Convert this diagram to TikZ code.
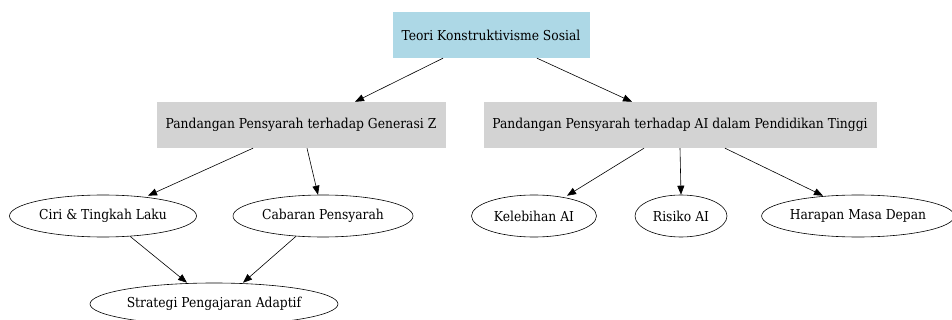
\documentclass[tikz,border=0pt]{standalone}
\usepackage{fontspec}
\setmainfont{DejaVu Serif Condensed}
\usepackage{tikz}
\usetikzlibrary{arrows.meta, positioning, shapes.geometric}
\definecolor{rootblue}{HTML}{ADD8E6}
\definecolor{boxgray}{HTML}{D3D3D3}

\begin{document}
\begin{tikzpicture}[x=1pt, y=-1pt, font=\fontsize{13.7}{15}\selectfont,
        topic/.style={rectangle, fill=boxgray, minimum height=46pt, inner sep=0pt},
        leaf/.style={ellipse, draw, fill=white, line width=0.6pt, minimum height=42pt, inner sep=0pt},
        arrow/.style={-{Triangle[length=9pt, width=7pt]}, line width=0.6pt}]
        \useasboundingbox (0,0) rectangle (952,320);
        % Nodes
        \node (teori) [topic, fill=rootblue, minimum width=197pt] at (491,35) {Teori Konstruktivisme Sosial};

        \node (genz) [topic, minimum width=289pt] at (301,125) {Pandangan Pensyarah terhadap Generasi Z};
        \node (ai) [topic, minimum width=393pt] at (680,125) {Pandangan Pensyarah terhadap AI dalam Pendidikan Tinggi};

        \node (ciri) [leaf, minimum width=187pt] at (103,216) {Ciri \& Tingkah Laku};
        \node (cabaran) [leaf, minimum width=180pt] at (323,216) {Cabaran Pensyarah};
        \node (kelebihan) [leaf, minimum width=125pt] at (534,216) {Kelebihan AI};
        \node (risiko) [leaf, minimum width=92pt] at (681,216) {Risiko AI};
        \node (harapan) [leaf, minimum width=186pt] at (858,216) {Harapan Masa Depan};

        \node (strategi) [leaf, minimum width=248pt] at (214,304) {Strategi Pengajaran Adaptif};

        % Arrows
        \draw[arrow] ([xshift=-48pt]teori.south) -- ([xshift=54pt]genz.north);
        \draw[arrow] ([xshift=46pt]teori.south) -- ([xshift=-48pt]ai.north);
        \draw[arrow] ([xshift=-48pt]genz.south) -- ([xshift=45pt, yshift=-1pt]ciri.north);
        \draw[arrow] ([xshift=6pt]genz.south) -- ([xshift=-5pt]cabaran.north);
        \draw[arrow] ([xshift=-36pt]ai.south) -- ([xshift=33pt, yshift=-1pt]kelebihan.north);
        \draw[arrow] (ai.south) -- (risiko.north);
        \draw[arrow] ([xshift=45pt]ai.south) -- ([xshift=-35pt, yshift=-1pt]harapan.north);
        \draw[arrow] ([xshift=27pt, yshift=1pt]ciri.south) -- ([xshift=-27pt]strategi.north);
        \draw[arrow] ([xshift=-27pt, yshift=1pt]cabaran.south) -- ([xshift=29pt]strategi.north);
\end{tikzpicture}
\end{document}
